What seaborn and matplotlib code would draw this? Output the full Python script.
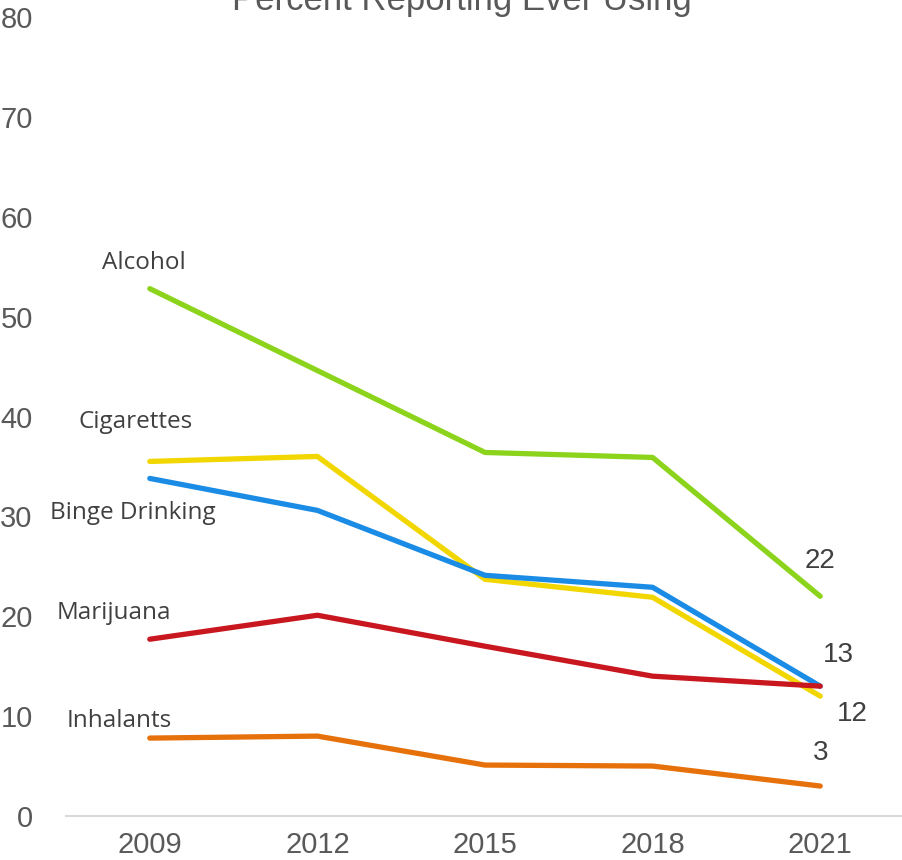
import pandas as pd
import matplotlib.pyplot as plt
import seaborn as sns
from matplotlib import font_manager

# data
years = [2009, 2012, 2015, 2018, 2021]
substances = ['Alcohol', 'Cigarettes', 'Binge Drinking', 'Marijuana', 'Inhalants']
alcohol = [52.8, 44.6, 36.4, 35.9, 22]
cigarettes = [35.5, 36.0, 23.7, 21.9, 12]
binge_drinking = [33.8, 30.6, 24.1, 22.9, 13]
marijuana = [17.7, 20.1, 17.0, 14.0, 13]
inhalants = [7.8, 8.0, 5.1, 5.0, 3]
end_labels = ['22', '12', '13', None, '3']

colors = ['#8BD41B', '#F2D600', '#1A8CE6', '#C8171E', '#E6700A']

sns.set_theme(style='white')
installed = {f.name for f in font_manager.fontManager.ttflist}
narrow = 'Liberation Sans Narrow' if 'Liberation Sans Narrow' in installed else 'Liberation Sans'
plt.rcParams['font.family'] = ['Liberation Sans', 'DejaVu Sans']

values = [alcohol, cigarettes, binge_drinking, marijuana, inhalants]
rows = []
for name, vals in zip(substances, values):
    for yr, v in zip(years, vals):
        rows.append({'year': yr, 'pct': v, 'substance': name})
df = pd.DataFrame(rows)

fig = plt.figure(figsize=(9.02, 8.6), dpi=100)
ax = fig.add_axes([66 / 902, 44 / 860, 838 / 902, 799 / 860])
ax.set_facecolor('white')

sns.lineplot(data=df, x='year', y='pct', hue='substance', hue_order=substances,
             palette=colors, linewidth=3.8, sort=False, legend=False, ax=ax,
             solid_capstyle='round')

ax.set_xlim(2007.5, 2022.5)
ax.set_ylim(0, 80)
ax.set_xticks(years)
ax.set_xticklabels([str(y) for y in years])
ax.set_yticks(range(0, 81, 10))
ax.tick_params(axis='both', length=0, labelsize=21, colors='#595959')
ax.tick_params(axis='y', pad=24)
ax.tick_params(axis='x', pad=11)
for lab in ax.get_xticklabels() + ax.get_yticklabels():
    lab.set_family(narrow)
ax.set_xlabel('')
ax.set_ylabel('')
for side in ['top', 'right', 'left']:
    ax.spines[side].set_visible(False)
ax.spines['bottom'].set_color('#D9D9D9')
ax.spines['bottom'].set_linewidth(1.5)

# series names near the first point (offsets in years / percent)
name_offsets = [(-0.1, 2.6), (-0.25, 3.9), (-0.3, -3.5), (-0.65, 2.6), (-0.55, 1.7)]
for name, vals, (dx, dy) in zip(substances, values, name_offsets):
    ax.text(years[0] + dx, vals[0] + dy, name, ha='center', va='center',
            fontsize=17.5, color='#404040', family=['Open Sans', 'DejaVu Sans'])

# end values near the last point
end_offsets = [(0.0, 3.5), (0.57, -1.8), (0.33, 3.1), None, (0.0, 3.3)]
for lab, vals, off in zip(end_labels, values, end_offsets):
    if lab is None:
        continue
    ax.text(years[-1] + off[0], vals[-1] + off[1], lab, ha='center', va='center',
            fontsize=20, color='#404040')

fig.text(462 / 902, 1 - 10 / 860, 'Percent Reporting Ever Using', ha='center',
         va='baseline', fontsize=25, color='#595959', family=narrow)

fig.savefig('out.png', dpi=100, facecolor='white')
